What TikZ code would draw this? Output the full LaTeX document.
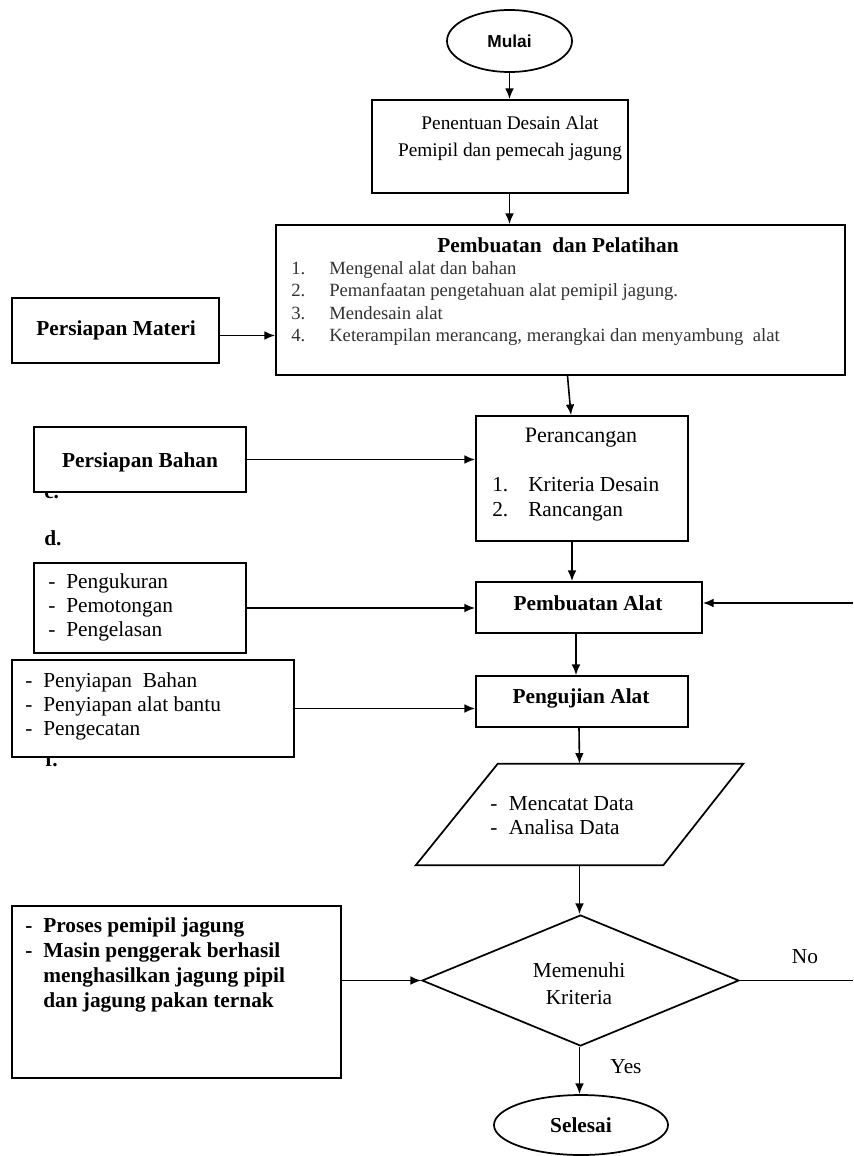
\documentclass[tikz,border=0pt]{standalone}
\usepackage{fontspec}
\setmainfont{Liberation Serif}
\newfontfamily\sansfnt{Liberation Sans}
\usetikzlibrary{arrows.meta,shapes.geometric,fit,calc}
\newcommand\fsz[2]{\fontsize{#1}{#2}\selectfont}
\begin{document}
\begin{tikzpicture}[x=0.75pt, y=-0.75pt,
  box/.style={draw, line width=1.3pt, fill=white, inner sep=0pt},
  arr/.style={line width=1.2pt, -{Latex[length=8pt,width=6.5pt]}},
  ln/.style={line width=1.2pt},
  txt/.style={inner sep=0pt, font=\fsz{16}{18}},
  btxt/.style={inner sep=0pt, font=\bfseries\fsz{16}{18}},
  lst/.style={inner sep=0pt, anchor=west, align=left}]
\useasboundingbox (0,0) rectangle (853,1156);

% stray list letters (partly covered by boxes)
\node[btxt, anchor=base west] (lc) at (44,498) {c.};
\node[btxt, anchor=base west] (ld) at (44,545) {d.};
\node[btxt, anchor=base west] (lf) at (45,766) {f.};

% terminals
\node[box, ellipse, minimum width=93.75pt, minimum height=46.5pt,
      font=\sansfnt\bfseries\fsz{13}{15}] (mulai) at (509.5,41) {Mulai};
\node[box, ellipse, minimum width=130.5pt, minimum height=45pt,
      font=\bfseries\fsz{16}{18}] (sel) at (581,1125) {Selesai};

% boxes
\node[box, fit={(372,100)(628,193)}] (b1) {};
\node[box, fit={(276,225)(845,375)}] (b2) {};
\node[box, fit={(12,298)(219,363)}] (pm) {};
\node[box, fit={(476,416)(688,541)}] (per) {};
\node[box, fit={(34,427)(246,492)}] (pb) {};
\node[box, fit={(34,563)(246,653)}] (pk) {};
\node[box, fit={(476,582)(702,633)}] (pa) {};
\node[box, fit={(12,660)(294,757)}] (ps) {};
\node[box, fit={(476,676)(688,727)}] (pu) {};
\node[inner sep=0pt, fit={(416,764)(743,865)}] (para) {};
\draw[line width=1.3pt, fill=white] (para.south west) -- ($(para.north west)+(82,0)$)
   -- (para.north east) -- ($(para.south east)+(-80,0)$) -- cycle;
\node[box, diamond, minimum width=237.75pt, minimum height=98.25pt] (dm) at (580.5,980.5) {};
\node[box, fit={(12,906)(341,1078)}] (pr) {};
\coordinate (rt) at (853,603);

% texts
\node[txt, align=center, font=\fsz{14.5}{20.25}] (t1) at (510,138.5)
  {Penentuan Desain Alat\\Pemipil dan pemecah jagung};
\node[btxt] (t2) at (558,245) {Pembuatan\ \ dan Pelatihan};
\node[lst, font=\fsz{14}{16.7}, text=black!80] (t2i) at (291,303.5)
  {\makebox[28.5pt][l]{1.}Mengenal alat dan bahan\\
   \makebox[28.5pt][l]{2.}Pemanfaatan pengetahuan alat pemipil jagung.\\
   \makebox[28.5pt][l]{3.}Mendesain alat\\
   \makebox[28.5pt][l]{4.}Keterampilan merancang, merangkai dan menyambung\ \ alat};
\node[btxt] (tpm) at (116,330) {Persiapan Materi};
\node[txt, font=\fsz{16.5}{18}] (tper) at (581,438) {Perancangan};
\node[lst, font=\fsz{16}{18.75}] (tperi) at (492,499.5)
  {\makebox[27pt][l]{1.}Kriteria Desain\\\makebox[27pt][l]{2.}Rancangan};
\node[btxt] (tpb) at (140,462) {Persiapan Bahan};
\node[lst, font=\fsz{16}{18}] (tpk) at (48,607)
  {\makebox[13.5pt][l]{-}Pengukuran\\\makebox[13.5pt][l]{-}Pemotongan\\\makebox[13.5pt][l]{-}Pengelasan};
\node[btxt] (tpa) at (588,603) {Pembuatan Alat};
\node[btxt] (tpu) at (581,698) {Pengujian Alat};
\node[lst, font=\fsz{16}{18}] (tps) at (25,706)
  {\makebox[13.5pt][l]{-}Penyiapan\ \ Bahan\\\makebox[13.5pt][l]{-}Penyiapan alat bantu\\\makebox[13.5pt][l]{-}Pengecatan};
\node[lst, font=\fsz{16}{18}] (tpara) at (490,816)
  {\makebox[14pt][l]{-}Mencatat Data\\\makebox[14pt][l]{-}Analisa Data};
\node[txt, align=center, font=\fsz{16}{20.25}] (tdm) at (579,983.5) {Memenuhi\\Kriteria};
\node[lst, font=\bfseries\fsz{16}{18.6}] (tpr) at (25,965)
  {\makebox[13.5pt][l]{-}Proses pemipil jagung\\
   \makebox[13.5pt][l]{-}Masin penggerak berhasil\\
   \hspace*{13.5pt}menghasilkan jagung pipil\\
   \hspace*{13.5pt}dan jagung pakan ternak};
\node[txt] (tno) at (805,957) {No};
\node[txt] (tyes) at (626,1067) {Yes};

% connectors
\draw[arr] (mulai.south) -- (mulai.south |- b1.north);
\draw[arr] (b1.south -| mulai.south) -- (b2.north -| mulai.south);
\draw[arr] ($(b2.south)+(7,0)$) -- ($(per.north)+(-11,0)$);
\draw[arr] ($(per.south)+(-10,0)$) -- ($(pa.north)+(-17,0)$);
\draw[arr] ($(pa.south)+(-13,0)$) -- ($(pu.north)+(-6,0)$);
\draw[arr] ($(pu.south)+(-3,0)$) -- (para.north);
\draw[arr] (para.south) -- (para.south |- dm.north);
\draw[arr] (dm.south -| para.south) -- (sel.north -| para.south);
\draw[arr] ($(pm.east)+(0,5)$) -- ($(pm.east -| b2.west)+(0,5)$);
\draw[arr] (pb.east) -- (pb.east -| per.west);
\draw[arr] (pk.east) -- (pk.east -| pa.west);
\draw[arr] (ps.east) -- (ps.east -| pu.west);
\draw[arr] (dm.west -| pr.east) -- (dm.west);
\draw[arr] (rt) -- (rt -| pa.east);
\draw[ln] (dm.east) -- (dm.east -| rt);
\end{tikzpicture}
\end{document}
